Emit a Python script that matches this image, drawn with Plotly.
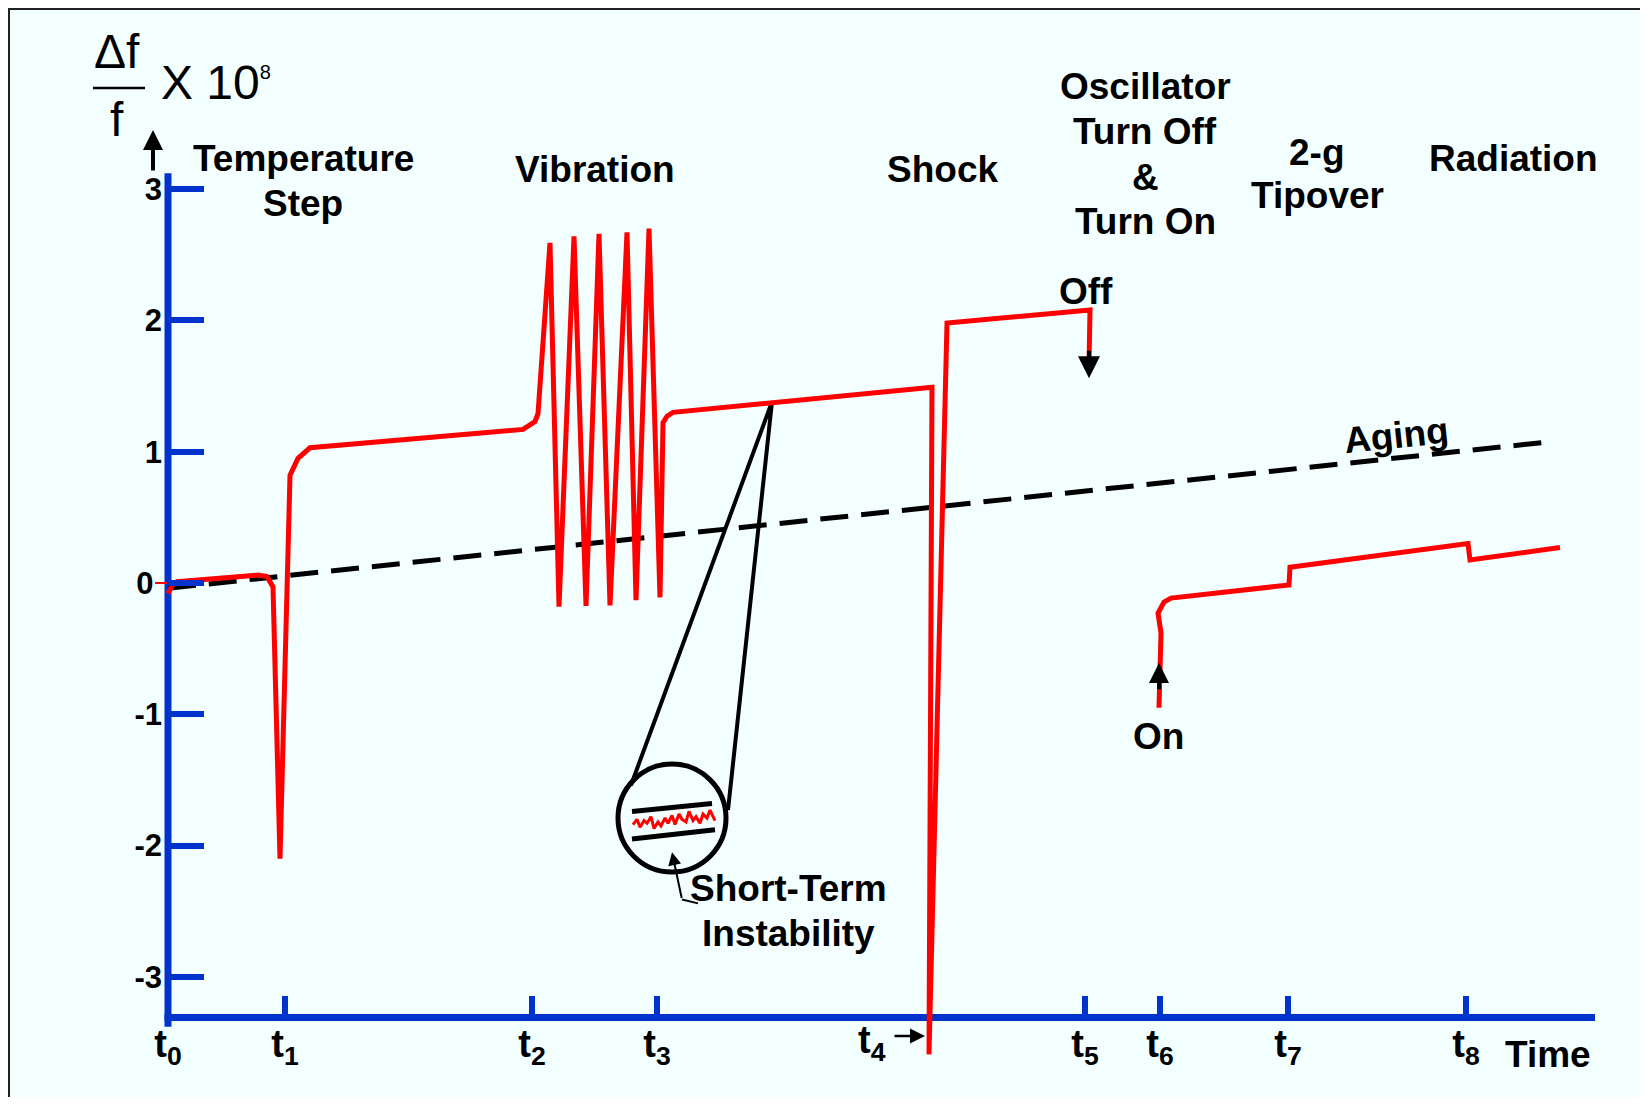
import plotly.graph_objects as go

# time axis marks t0 .. t8 (arbitrary time units)
tick_times = [0.0, 1.17, 3.64, 4.89, 7.62, 9.17, 9.92, 11.20, 12.98]
tick_names = ['t<sub>0</sub>', 't<sub>1</sub>', 't<sub>2</sub>', 't<sub>3</sub>',
              't<sub>4</sub>', 't<sub>5</sub>', 't<sub>6</sub>', 't<sub>7</sub>',
              't<sub>8</sub>']
freq_ticks = [-3, -2, -1, 0, 1, 2, 3]
freq_tick_text = ['-3', '-2', '-1', '0\u00a0', '1', '2', '3']

# oscillator running from t0 until it is switched off at t5
run_t = [0.00, 0.04, 0.09, 0.90, 0.99, 1.05, 1.12, 1.19, 1.22, 1.30, 1.42,
         3.55, 3.67, 3.70, 3.82, 3.91, 4.06, 4.18, 4.31, 4.42, 4.59, 4.68,
         4.81, 4.92, 4.95, 4.99, 5.05, 7.64, 7.61, 7.79, 9.22, 9.21]
run_f = [-0.08, -0.02, 0.01, 0.06, 0.05, -0.03, -2.10, -0.11, 0.82, 0.95, 1.03,
         1.17, 1.23, 1.29, 2.59, -0.18, 2.64, -0.175, 2.66, -0.17, 2.67, -0.13,
         2.70, -0.11, 1.22, 1.27, 1.30, 1.49, -3.59, 1.98, 2.08, 1.66]

# after turn on at t6 (tipover at t7, radiation at t8)
restart_t = [9.91, 9.93, 9.90, 9.96, 10.03, 11.21, 11.22, 13.00, 13.02, 13.92]
restart_f = [-0.95, -0.38, -0.23, -0.145, -0.115, -0.015, 0.12, 0.30, 0.175, 0.27]

aging_t = [0.0, 13.75]
aging_f = [-0.04, 1.07]

# magnified short-term noise inside the lens
noise_t = [4.65, 4.69, 4.72, 4.76, 4.79, 4.83, 4.86, 4.90, 4.93, 4.97, 5.00,
           5.04, 5.07, 5.11, 5.14, 5.18, 5.21, 5.25, 5.28, 5.32, 5.35, 5.39,
           5.42, 5.45, 5.47]
noise_f = [-1.84, -1.80, -1.86, -1.81, -1.83, -1.78, -1.87, -1.82, -1.85, -1.79,
           -1.83, -1.77, -1.84, -1.76, -1.80, -1.82, -1.74, -1.81, -1.78, -1.83,
           -1.76, -1.79, -1.73, -1.78, -1.81]
band_t = [4.64, 5.44, None, 4.64, 5.47]
band_f = [-1.74, -1.68, None, -1.95, -1.88]
lens_t = [4.63, 6.04, 5.60]
lens_f = [-1.54, 1.38, -1.73]
pointer_t = [5.30, 5.14]
pointer_f = [-2.44, -2.41]
zero_mark_t = [-0.13, -0.01]
zero_mark_f = [0.0, 0.0]

BLUE = '#0033cc'
RED = '#ff0000'
BG = '#f3ffff'
FONT = 'Liberation Sans, Arial, sans-serif'
W, H = 1632, 1089       # page is 1648x1105 with the 8px body margin
OFF = 8
# page pixel -> data: x = (px - 168) / 100, y = (583 - py) / 131.3
x_lo, x_hi = (OFF - 168) / 100, (OFF + W - 168) / 100
y_hi, y_lo = (583 - OFF) / 131.3, (583 - OFF - H) / 131.3

fig = go.Figure()


def add_line(x, y, color, width, dash=None):
    fig.add_trace(go.Scatter(
        x=x, y=y, mode='lines', hoverinfo='skip', showlegend=False,
        line=dict(color=color, width=width, dash=dash)))


add_line(aging_t, aging_f, 'black', 5, '28px,13px')
add_line(lens_t, lens_f, 'black', 4)
add_line(band_t, band_f, 'black', 5)
add_line(noise_t, noise_f, RED, 3)
add_line(pointer_t, pointer_f, 'black', 2)
add_line(zero_mark_t, zero_mark_f, RED, 2)
add_line(run_t, run_f, RED, 5)
add_line(restart_t, restart_f, RED, 5)

lens_cx, lens_cy, lens_rx, lens_ry = 5.04, -1.79, 0.54, 0.411
shapes = [
    dict(type='line', xref='x', yref='y', x0=0, x1=0, y0=-3.38, y1=3.12,
         line=dict(color=BLUE, width=7), layer='below'),
    dict(type='line', xref='x', yref='y', x0=-0.035, x1=14.27, y0=-3.31,
         y1=-3.31, line=dict(color=BLUE, width=7), layer='below'),
    dict(type='circle', xref='x', yref='y', x0=lens_cx - lens_rx,
         x1=lens_cx + lens_rx, y0=lens_cy - lens_ry, y1=lens_cy + lens_ry,
         line=dict(color='black', width=5)),
    dict(type='line', xref='x', yref='y', x0=-0.75, x1=-0.23, y0=3.77, y1=3.77,
         line=dict(color='black', width=2.5)),
    dict(type='rect', xref='paper', yref='paper', x0=(9 - OFF) / W,
         x1=(1641 - OFF) / W, y0=1 - (1099 - OFF) / H, y1=1 - (9 - OFF) / H,
         line=dict(color='#222222', width=2)),
]

bold = dict(family=FONT, size=37, color='black', weight='bold')
plain = dict(family=FONT, size=48, color='black')
labels = [
    ('Temperature', 1.35, 3.23, 0),
    ('Step', 1.35, 2.89, 0),
    ('Vibration', 4.27, 3.15, 0),
    ('Shock', 7.74, 3.15, 0),
    ('Oscillator', 9.77, 3.78, 0),
    ('Turn Off', 9.77, 3.435, 0),
    ('&', 9.77, 3.09, 0),
    ('Turn On', 9.77, 2.75, 0),
    ('2-g', 11.49, 3.28, 0),
    ('Tipover', 11.49, 2.95, 0),
    ('Radiation', 13.45, 3.23, 0),
    ('Off', 9.18, 2.22, 0),
    ('On', 9.90, -1.17, 0),
    ('Short-Term', 6.20, -2.33, 0),
    ('Instability', 6.20, -2.67, 0),
    ('Aging', 12.28, 1.12, -6),
    ('Time', 13.80, -3.59, 0),
]
annotations = [dict(text=t, x=x, y=y, xref='x', yref='y', showarrow=False,
                    font=bold, textangle=a, xanchor='center', yanchor='middle')
               for t, x, y, a in labels]
annotations += [
    dict(text=tick_names[4], x=7.04, y=-3.50, xref='x', yref='y',
         showarrow=False, font=dict(family=FONT, size=38, color='black',
                                    weight='bold')),
    dict(text='\u0394f', x=-0.51, y=4.05, xref='x', yref='y', showarrow=False,
         font=plain),
    dict(text='f', x=-0.51, y=3.53, xref='x', yref='y', showarrow=False,
         font=plain),
    dict(text='X 10<sup><span style="font-size:20px">8</span></sup>',
         x=-0.09, y=3.81, xref='x', yref='y', showarrow=False, font=plain,
         xanchor='left'),
]

arrows = [
    # (head x, head y, tail x, tail y, width, size)
    (-0.15, 3.45, -0.15, 3.13, 4, 1.0),
    (9.21, 1.56, 9.21, 1.78, 4, 1.1),
    (9.91, -0.61, 9.91, -0.82, 4, 1.0),
    (7.57, -3.45, 7.25, -3.45, 2.5, 1.2),
    (5.04, -2.05, 5.14, -2.41, 2, 1.3),
]
for hx, hy, tx, ty, aw, asz in arrows:
    annotations.append(dict(
        text='', x=hx, y=hy, ax=tx, ay=ty, xref='x', yref='y', axref='x',
        ayref='y', showarrow=True, arrowhead=2, arrowwidth=aw, arrowsize=asz,
        arrowcolor='black'))

axis_ticks = [(t, n) for i, (t, n) in enumerate(zip(tick_times, tick_names))
              if i != 4]

fig.update_layout(
    width=W, height=H,
    margin=dict(l=0, r=0, t=0, b=0),
    paper_bgcolor=BG, plot_bgcolor=BG,
    font=dict(family=FONT, color='black'),
    xaxis=dict(
        range=[x_lo, x_hi], anchor='free', position=(OFF + H - 1018) / H,
        showgrid=False, zeroline=False, showline=False, automargin=False,
        tickvals=[t for t, _ in axis_ticks], ticktext=[n for _, n in axis_ticks],
        ticks='inside', ticklen=22, tickwidth=6, tickcolor=BLUE,
        tickfont=dict(family=FONT, size=38, color='black', weight='bold'),
    ),
    yaxis=dict(
        range=[y_lo, y_hi], anchor='free', position=(168 - OFF) / W,
        showgrid=False, zeroline=False, showline=False, automargin=False,
        tickvals=freq_ticks, ticktext=freq_tick_text,
        ticks='inside', ticklen=35, tickwidth=6, tickcolor=BLUE,
        ticklabelstandoff=6,
        tickfont=dict(family=FONT, size=31, color='black', weight='bold'),
    ),
    shapes=shapes,
    annotations=annotations,
)

fig.write_html("out.html")
